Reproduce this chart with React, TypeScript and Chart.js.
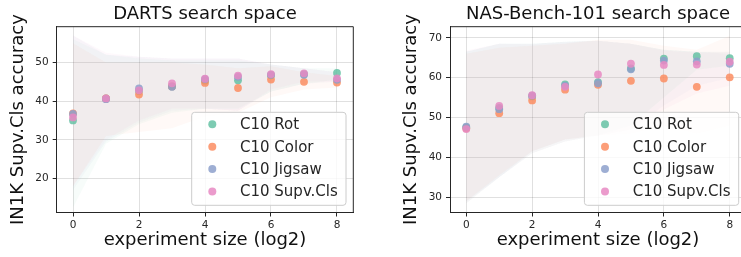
import React, { useEffect, useRef } from 'react';
import { Chart, registerables } from 'chart.js';

Chart.register(...registerables);

// ---------- data ----------
const xValues = [0, 1, 2, 3, 4, 5, 6, 7, 8];
const xTickValues = [0, 2, 4, 6, 8];
const seriesNames = ['C10 Rot', 'C10 Color', 'C10 Jigsaw', 'C10 Supv.Cls'];
const seriesColors = ['#66c2a5', '#fc8d62', '#8da0cb', '#e78ac3'];

// DARTS search space
const dartsTitle = 'DARTS search space';
const dartsYTicks = [20, 30, 40, 50];
const dartsRot = [35.0, 40.7, 42.6, 43.8, 45.3, 45.4, 46.7, 47.0, 47.3];
const dartsColor = [36.8, 40.7, 41.7, 43.8, 44.7, 43.4, 45.6, 45.0, 44.8];
const dartsJigsaw = [36.7, 40.5, 43.3, 43.7, 45.7, 46.3, 46.8, 46.8, 45.5];
const dartsSupv = [35.8, 40.7, 42.8, 44.6, 45.8, 46.6, 47.0, 47.2, 45.9];
const dartsRotLo = [12.5, 29, 34, 37, 38, 38, 42.5, 44.5, 45.5];
const dartsRotHi = [56, 52, 51, 50.5, 50.5, 50.5, 49.5, 48.5, 48.5];
const dartsColorLo = [18, 31, 32, 33, 36, 37, 41, 43, 43.5];
const dartsColorHi = [55, 50, 50, 50, 49.5, 48.5, 49, 47.5, 46.5];
const dartsJigsawLo = [17, 29.5, 34.5, 37.5, 38, 37.5, 42.5, 44.5, 45];
const dartsJigsawHi = [57, 52, 51.5, 51, 51, 51, 49.5, 48.5, 47.5];
const dartsSupvLo = [18, 30, 35, 38, 38, 37.5, 43, 45, 45];
const dartsSupvHi = [57, 52.5, 51.5, 51, 51, 51, 49.5, 48.5, 47.5];

// NAS-Bench-101 search space
const nasTitle = 'NAS-Bench-101 search space';
const nasYTicks = [30, 40, 50, 60, 70];
const nasRot = [47.5, 52.4, 55.3, 58.3, 58.9, 62.3, 64.8, 65.4, 64.9];
const nasColor = [47.3, 51.1, 54.3, 57.0, 58.2, 59.2, 59.8, 57.7, 60.1];
const nasJigsaw = [47.7, 52.1, 55.5, 58.0, 58.6, 62.1, 64.3, 64.1, 63.5];
const nasSupv = [47.1, 52.9, 55.6, 57.7, 60.8, 63.5, 63.2, 63.3, 64.0];
const nasRotLo = [28.5, 35, 41, 44, 45.5, 48, 55, 62, 63];
const nasRotHi = [66.5, 68.5, 68.5, 69, 69.3, 68.5, 67, 66.5, 66.5];
const nasColorLo = [29, 35.5, 41.5, 44.5, 45.5, 46, 48, 46, 48];
const nasColorHi = [66, 67.5, 68, 68.5, 69.5, 69.5, 68, 67, 70.5];
const nasJigsawLo = [29, 35, 41.5, 44.5, 45.5, 47, 53, 58, 60];
const nasJigsawHi = [66.5, 68.5, 68.5, 69, 69.3, 68.5, 67, 66.5, 66];
const nasSupvLo = [28.5, 35, 41, 44, 45.5, 47, 52, 56, 58];
const nasSupvHi = [66.8, 68.5, 68.4, 68.9, 69.3, 68.5, 66.8, 66.3, 66.5];

const xLabel = 'experiment size (log2)';
const yLabel = 'IN1K Supv.Cls accuracy';

// ---------- helpers ----------
const FONT = "'DejaVu Sans', sans-serif";
const TEXT = '#262626';

function rgba(hex: string, a: number) {
  const n = parseInt(hex.slice(1), 16);
  return `rgba(${(n >> 16) & 255},${(n >> 8) & 255},${n & 255},${a})`;
}

type Panel = {
  title: string;
  yTicks: number[];
  yMin: number;
  yMax: number;
  values: number[][];
  lows: number[][];
  highs: number[][];
  width: number;
  left: number;
  yAxisWidth: number;
  padRight: number;
  yTitlePad: number;
};

function buildChart(canvas: HTMLCanvasElement, p: Panel) {
  const datasets: any[] = [];
  p.values.forEach((vals, i) => {
    datasets.push({
      type: 'line',
      label: '_hi' + i,
      data: xValues.map((x, j) => ({ x, y: p.highs[i][j] })),
      fill: '+1',
      backgroundColor: rgba(seriesColors[i], 0.05),
      borderColor: 'rgba(0,0,0,0)',
      borderWidth: 1,
      pointRadius: 0,
      tension: 0,
      order: 20 + i,
    });
    datasets.push({
      type: 'line',
      label: '_lo' + i,
      data: xValues.map((x, j) => ({ x, y: p.lows[i][j] })),
      fill: false,
      borderColor: 'rgba(0,0,0,0)',
      borderWidth: 1,
      pointRadius: 0,
      tension: 0,
      order: 20 + i,
    });
  });
  p.values.forEach((vals, i) => {
    datasets.push({
      type: 'scatter',
      label: seriesNames[i],
      data: xValues.map((x, j) => ({ x, y: vals[j] })),
      backgroundColor: rgba(seriesColors[i], 0.85),
      borderWidth: 0,
      pointRadius: 3.9,
      order: 4 - i,
    });
  });

  const decor = {
    id: 'decor',
    afterDatasetsDraw(chart: any) {
      const { ctx, chartArea: a } = chart;
      ctx.save();
      ctx.strokeStyle = TEXT;
      ctx.lineWidth = 1;
      ctx.beginPath();
      ctx.moveTo(a.left, a.top);
      ctx.lineTo(a.right, a.top);
      ctx.lineTo(a.right, a.bottom);
      ctx.stroke();
      ctx.restore();
    },
    afterDraw(chart: any) {
      const { ctx, chartArea: a } = chart;
      ctx.save();
      // title
      ctx.fillStyle = '#111';
      ctx.font = `18px ${FONT}`;
      ctx.textAlign = 'center';
      ctx.textBaseline = 'middle';
      ctx.fillText(p.title, (a.left + a.right) / 2, 14);
      // legend
      const bx = a.right - 161.6;
      const by = a.top + 85.6;
      const bw = 154.3;
      const bh = 93;
      ctx.beginPath();
      ctx.roundRect(bx, by, bw, bh, 3);
      ctx.fillStyle = 'rgba(255,255,255,0.8)';
      ctx.fill();
      ctx.strokeStyle = '#cccccc';
      ctx.lineWidth = 1;
      ctx.stroke();
      ctx.font = `15px ${FONT}`;
      ctx.textAlign = 'left';
      seriesNames.forEach((name, i) => {
        const cy = by + 12 + i * 22.4;
        ctx.beginPath();
        ctx.arc(bx + 20.6, cy, 4, 0, Math.PI * 2);
        ctx.fillStyle = rgba(seriesColors[i], 0.85);
        ctx.fill();
        ctx.fillStyle = TEXT;
        ctx.fillText(name, bx + 48.3, cy + 1);
      });
      ctx.restore();
    },
  };

  return new Chart(canvas, {
    type: 'scatter',
    data: { datasets },
    plugins: [decor],
    options: {
      animation: false,
      responsive: false,
      devicePixelRatio: 1,
      layout: { padding: { top: 26.7, left: 0, right: p.padRight, bottom: 0 } },
      plugins: {
        legend: { display: false },
        tooltip: { enabled: false },
        title: { display: false },
        filler: { propagate: false },
      },
      scales: {
        x: {
          type: 'linear',
          min: -0.494,
          max: 8.494,
          afterBuildTicks: (s: any) => {
            s.ticks = xTickValues.map((v) => ({ value: v }));
          },
          afterFit: (s: any) => {
            s.height = 44.5;
          },
          ticks: {
            font: { family: FONT, size: 10.5 },
            color: TEXT,
            padding: 2,
            maxRotation: 0,
            autoSkip: false,
          },
          grid: {
            color: 'rgba(0,0,0,0.12)',
            tickColor: TEXT,
            tickLength: 4,
            drawTicks: true,
          },
          border: { display: true, color: TEXT, width: 1 },
          title: {
            display: true,
            text: xLabel,
            font: { family: FONT, size: 18 },
            color: '#111',
            padding: { top: 0, bottom: 6 },
          },
        },
        y: {
          type: 'linear',
          min: p.yMin,
          max: p.yMax,
          afterBuildTicks: (s: any) => {
            s.ticks = p.yTicks.map((v) => ({ value: v }));
          },
          afterFit: (s: any) => {
            s.width = p.yAxisWidth;
          },
          ticks: {
            font: { family: FONT, size: 10.5 },
            color: TEXT,
            padding: 4,
          },
          grid: {
            color: 'rgba(0,0,0,0.12)',
            tickColor: TEXT,
            tickLength: 4,
            drawTicks: true,
          },
          border: { display: true, color: TEXT, width: 1 },
          title: {
            display: true,
            text: yLabel,
            font: { family: FONT, size: 18 },
            color: '#111',
            padding: { top: p.yTitlePad, bottom: 0 },
          },
        },
      },
    } as any,
  });
}

const panels: Panel[] = [
  {
    title: dartsTitle,
    yTicks: dartsYTicks,
    yMin: 11.2,
    yMax: 59.25,
    values: [dartsRot, dartsColor, dartsJigsaw, dartsSupv],
    lows: [dartsRotLo, dartsColorLo, dartsJigsawLo, dartsSupvLo],
    highs: [dartsRotHi, dartsColorHi, dartsJigsawHi, dartsSupvHi],
    width: 370,
    left: 0,
    yAxisWidth: 56.7,
    padRight: 16.7,
    yTitlePad: 7.5,
  },
  {
    title: nasTitle,
    yTicks: nasYTicks,
    yMin: 26.15,
    yMax: 72.8,
    values: [nasRot, nasColor, nasJigsaw, nasSupv],
    lows: [nasRotLo, nasColorLo, nasJigsawLo, nasSupvLo],
    highs: [nasRotHi, nasColorHi, nasJigsawHi, nasSupvHi],
    width: 380,
    left: 370,
    yAxisWidth: 80,
    padRight: 3.4,
    yTitlePad: 30.9,
  },
];

function PanelChart({ panel }: { panel: Panel }) {
  const ref = useRef<HTMLCanvasElement>(null);
  useEffect(() => {
    if (!ref.current) return;
    const c = buildChart(ref.current, panel);
    return () => c.destroy();
  }, [panel]);
  return (
    <canvas
      ref={ref}
      width={panel.width}
      height={257}
      style={{ position: 'absolute', left: panel.left, top: 0, width: panel.width, height: 257 }}
    />
  );
}

export default function App() {
  return (
    <div
      style={{
        position: 'absolute',
        left: 0,
        top: 0,
        width: 741,
        height: 257,
        overflow: 'hidden',
        background: '#fff',
      }}
    >
      {panels.map((p, i) => (
        <PanelChart key={i} panel={p} />
      ))}
    </div>
  );
}
